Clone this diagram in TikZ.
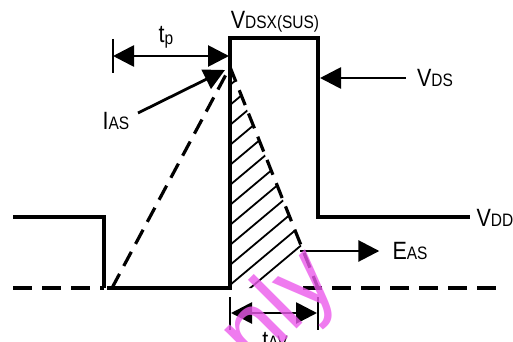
\documentclass[tikz,border=0pt]{standalone}
\usepackage{fontspec}
\setmainfont{Liberation Sans}[FakeStretch=0.86]
\newfontfamily\wmfont{Liberation Sans}
\usetikzlibrary{arrows.meta}
\newcommand\lsub[1]{{\fontsize{18}{18}\selectfont #1}}
\definecolor{wmpink}{RGB}{236,90,236}
\begin{document}
\begin{tikzpicture}[x=1pt,y=-1pt,
  wave/.style={line width=3.2pt, line cap=butt, line join=miter},
  dashwave/.style={wave, dash pattern=on 19pt off 10pt},
  rampdash/.style={wave, dash pattern=on 16pt off 9pt},
  arr/.style={line width=2.8pt, -{Triangle[length=21pt,width=21pt]}},
  dblarr/.style={line width=2.8pt, {Triangle[length=21pt,width=21pt]}-{Triangle[length=21pt,width=21pt]}},
  lbl/.style={font=\fontsize{25}{25}\selectfont, inner sep=0pt},
  barline/.style={line width=2.8pt},
  hatch/.style={line width=1.8pt}]
\useasboundingbox (0,0) rectangle (513,342);
\fill[white] (0,0) rectangle (513,342);

% key points
\coordinate (L0) at (13,217);
\coordinate (L1) at (104,217);
\coordinate (L2) at (104,288);
\coordinate (B0) at (13,288);
\coordinate (R0) at (112,288);
\coordinate (S0) at (107,288);
\coordinate (P) at (230,288);
\coordinate (pk) at (230,67);
\coordinate (T0) at (230,38);
\coordinate (T1) at (318,38);
\coordinate (D1) at (318,217);
\coordinate (D2) at (470,217);
\coordinate (F) at (318,288);
\coordinate (G0) at (303,288);
\coordinate (G1) at (505,288);

% hatching
\begin{scope}
  \clip (pk) -- (P) -- (F) -- cycle;
  \foreach \k in {0,...,11} \draw[hatch] (230,85+\k*20) -- ++(130,-109);
\end{scope}

% waveforms
\draw[wave] (L0) -- (L1) -- (L2);
\draw[dashwave] (B0) -- (L2);
\draw[wave] (S0) -- (P) -- (T0) -- (T1) -- (D1) -- (D2);
\draw[rampdash] (R0) -- (pk);
\draw[rampdash] (pk) -- (F);
\draw[dashwave] (G0) -- (G1);

% labels
\node[lbl] (tp) at (166,37) {t\raisebox{-2pt}{\lsub{p}}};
\node[lbl] (ias) at (116,121) {I\lsub{AS}};
\node[lbl] (vdsx) at (275,22) {V\lsub{DSX(SUS)}};
\node[lbl] (vds) at (435,78) {V\lsub{DS}};
\node[lbl] (vdd) at (495,218) {V\lsub{DD}};
\node[lbl] (eas) at (410,251) {E\lsub{AS}};
\node[lbl] (tav) at (275,341) {t\lsub{AV}};

% t_p
\coordinate (tpB0) at (113,39);
\coordinate (tpB1) at (113,73);
\coordinate (tpL) at (113,56);
\coordinate (tpR) at (229,56);
\draw[barline] (tpB0) -- (tpB1);
\draw[dblarr] (tpL) -- (tpR);

% I_AS
\coordinate (iasTail) at (138,113);
\coordinate (iasTip) at (225,70);
\draw[arr] (iasTail) -- (iasTip);

% V_DS
\coordinate (vdsTip) at (320,78);
\draw[arr, shorten <=11pt] (vds.west) -- (vdsTip);

% E_AS
\coordinate (easTail) at (300,251);
\draw[arr, shorten >=13pt] (easTail) -- (eas.west);

% t_AV
\coordinate (avB0) at (230,297);
\coordinate (avB1) at (230,330);
\coordinate (avB2) at (318,297);
\coordinate (avB3) at (318,330);
\coordinate (avL) at (231,313);
\coordinate (avR) at (317,313);
\draw[barline] (avB0) -- (avB1);
\draw[barline] (avB2) -- (avB3);
\draw[dblarr] (avL) -- (avR);

% watermark
\node[rotate=45, text=wmpink, opacity=0.8, font=\wmfont\fontsize{95}{95}\selectfont, inner sep=0pt] (wm) at (262,329) {only};
\end{tikzpicture}
\end{document}
